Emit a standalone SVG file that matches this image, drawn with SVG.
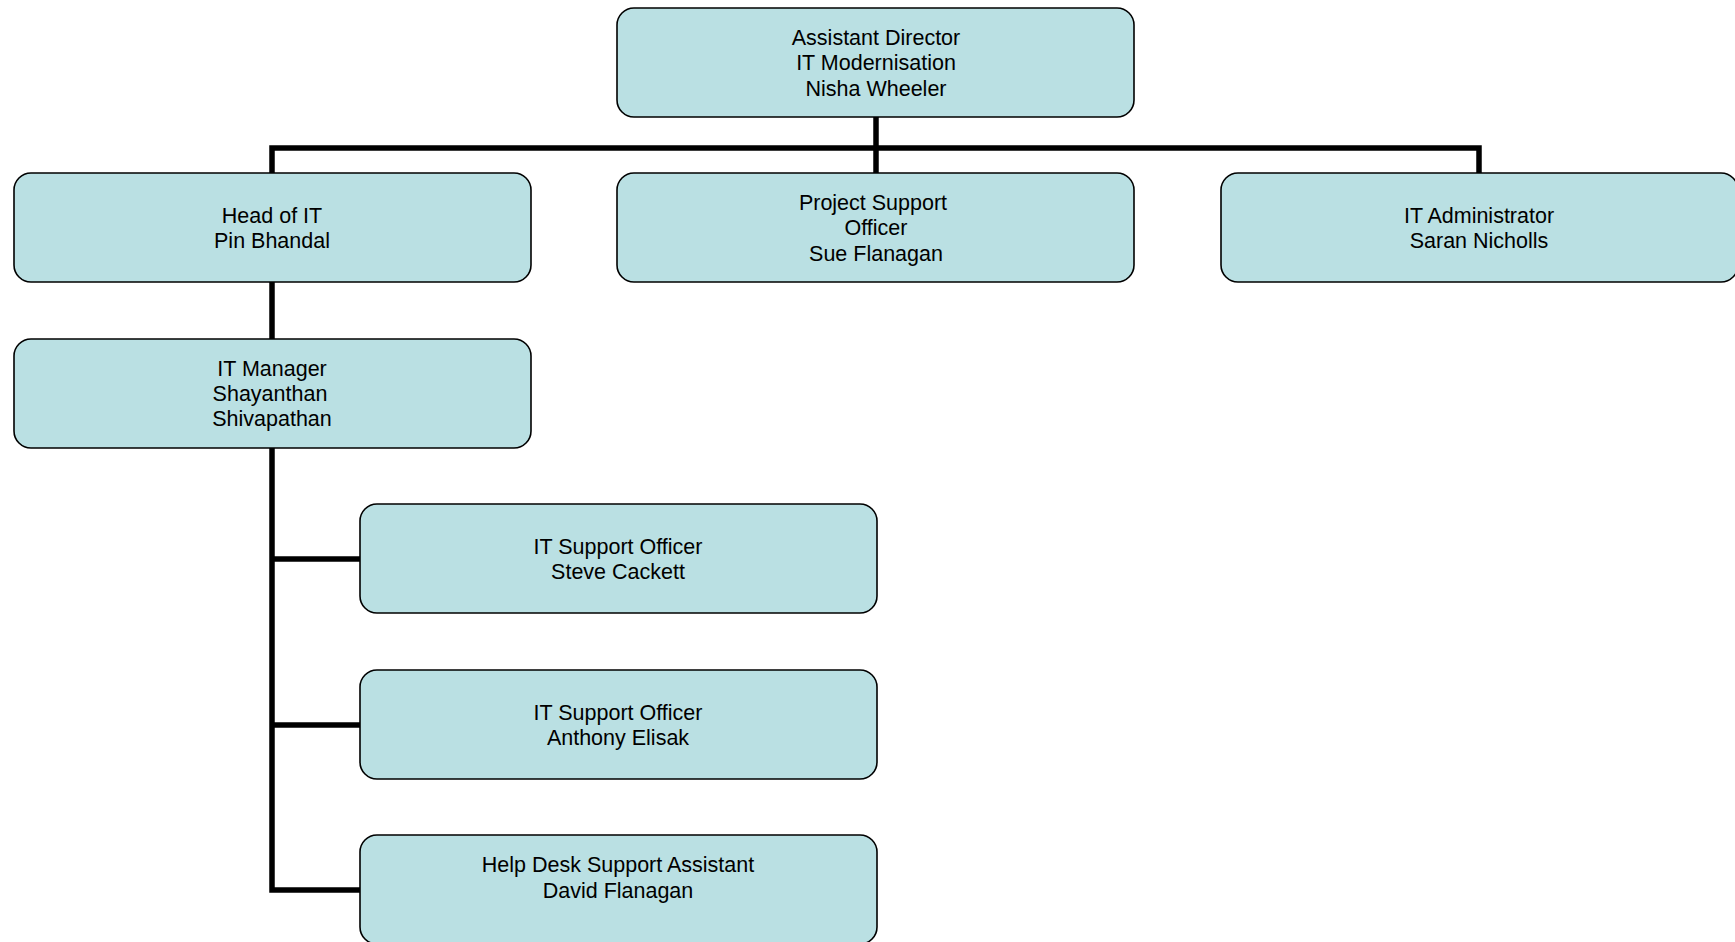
<svg xmlns="http://www.w3.org/2000/svg" width="1735" height="942" viewBox="0 0 1735 942">
<style>
.box{fill:#BAE0E3;stroke:#000;stroke-width:1.6}
.t{font-family:"Liberation Sans",Arial,sans-serif;font-size:21.5px;fill:#000;text-anchor:middle}
.c{fill:none;stroke:#000;stroke-width:5.5;stroke-linejoin:miter}
</style>
<rect width="1735" height="942" fill="#fff"/>
<g id="connectors">
<path class="c" d="M876 117 V148"/>
<path class="c" d="M272 173 V148 H1479 V173"/>
<path class="c" d="M876 148 V173"/>
<path class="c" d="M272 282 V339"/>
<path class="c" d="M272 448 V890 H360"/>
<path class="c" d="M272 559 H360"/>
<path class="c" d="M272 725 H360"/>
</g>
<g id="n-assistant-director">
<rect class="box" x="617" y="8" width="517" height="109" rx="17"/>
<text class="t" x="876" y="45">Assistant Director</text>
<text class="t" x="876" y="70">IT Modernisation</text>
<text class="t" x="876" y="95.5">Nisha Wheeler</text>
</g>
<g id="n-head-of-it">
<rect class="box" x="14" y="173" width="517" height="109" rx="17"/>
<text class="t" x="272" y="223">Head of IT</text>
<text class="t" x="272" y="248">Pin Bhandal</text>
</g>
<g id="n-project-support">
<rect class="box" x="617" y="173" width="517" height="109" rx="17"/>
<text class="t" x="873" y="209.5">Project Support</text>
<text class="t" x="876" y="235">Officer</text>
<text class="t" x="876" y="260.5">Sue Flanagan</text>
</g>
<g id="n-it-administrator">
<rect class="box" x="1221" y="173" width="517" height="109" rx="17"/>
<text class="t" x="1479" y="223">IT Administrator</text>
<text class="t" x="1479" y="248">Saran Nicholls</text>
</g>
<g id="n-it-manager">
<rect class="box" x="14" y="339" width="517" height="109" rx="17"/>
<text class="t" x="272" y="375.5">IT Manager</text>
<text class="t" x="270" y="401">Shayanthan</text>
<text class="t" x="272" y="426">Shivapathan</text>
</g>
<g id="n-it-support-1">
<rect class="box" x="360" y="504" width="517" height="109" rx="17"/>
<text class="t" x="618" y="553.5">IT Support Officer</text>
<text class="t" x="618" y="579">Steve Cackett</text>
</g>
<g id="n-it-support-2">
<rect class="box" x="360" y="670" width="517" height="109" rx="17"/>
<text class="t" x="618" y="719.5">IT Support Officer</text>
<text class="t" x="618" y="744.5">Anthony Elisak</text>
</g>
<g id="n-help-desk">
<rect class="box" x="360" y="835" width="517" height="109" rx="17"/>
<text class="t" x="618" y="871.5">Help Desk Support Assistant</text>
<text class="t" x="618" y="897.5">David Flanagan</text>
</g>
</svg>
